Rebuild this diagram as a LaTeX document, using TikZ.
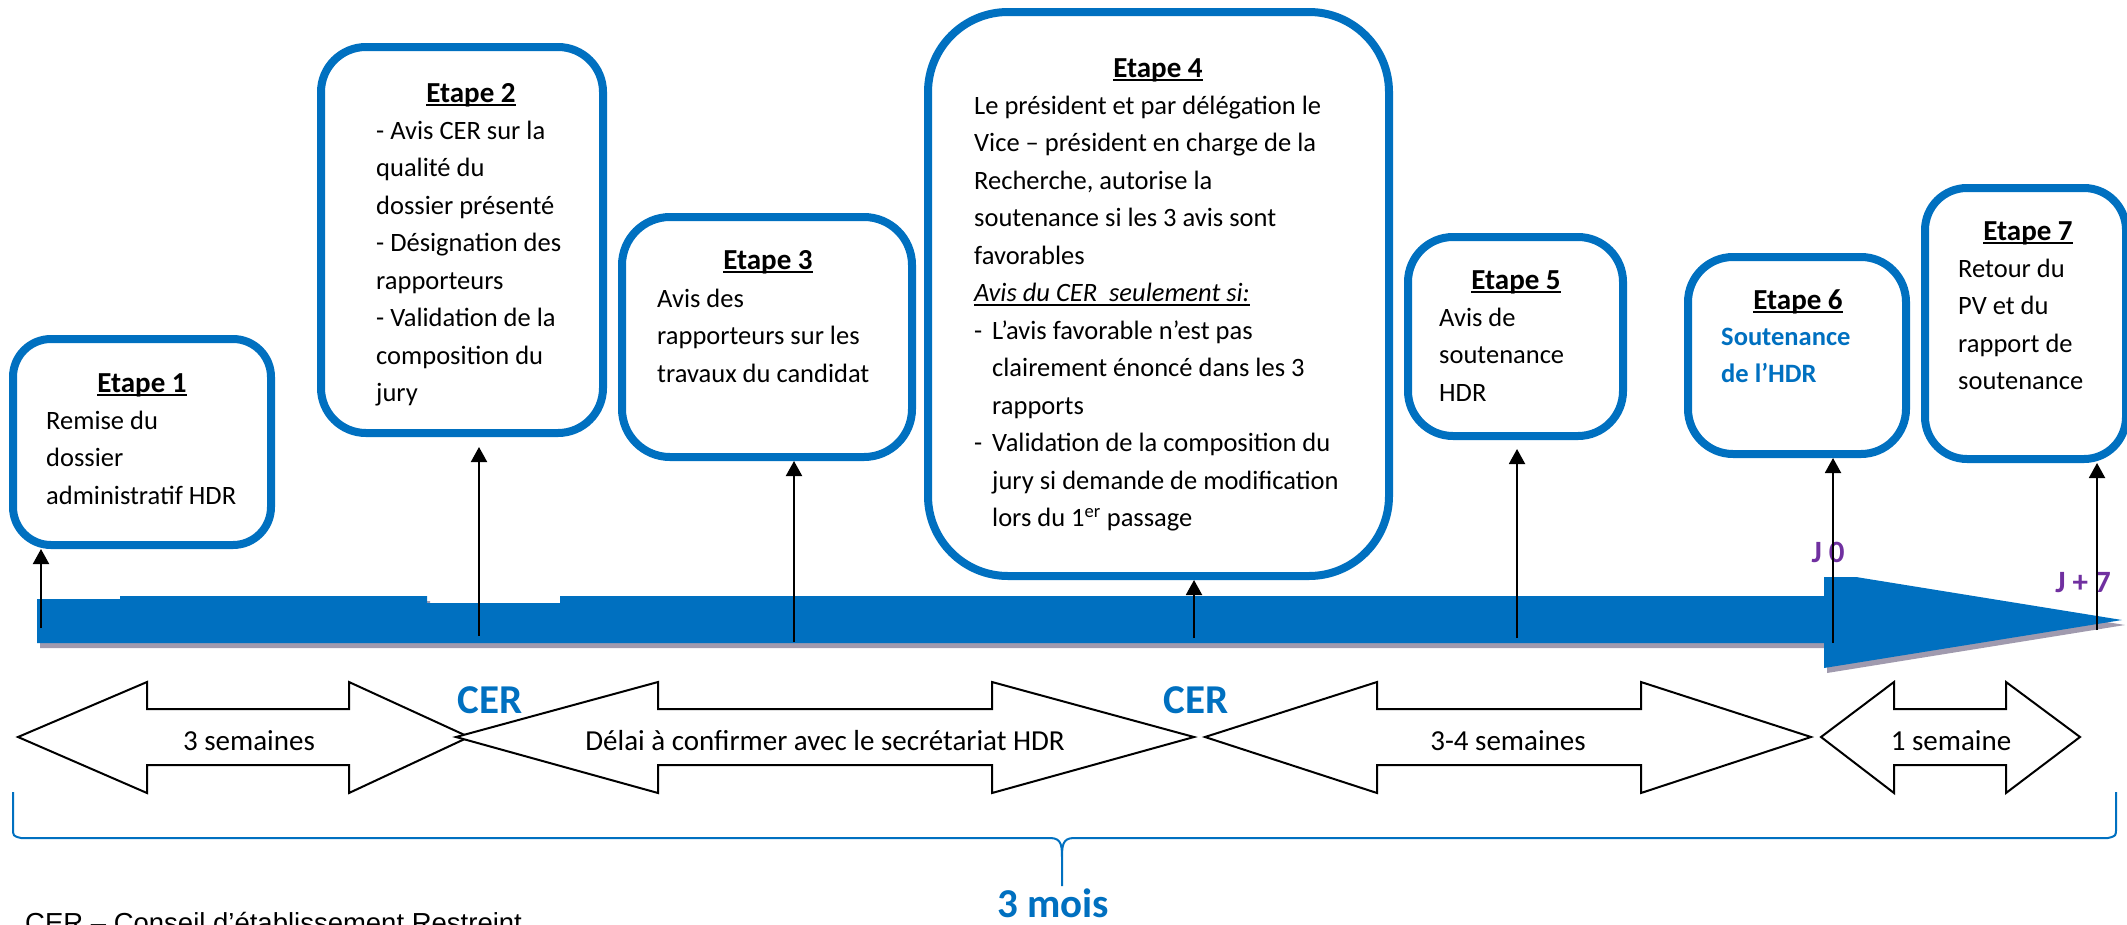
\documentclass[tikz,border=0pt]{standalone}
\usepackage{fontspec}
\setmainfont{Carlito}
\newfontfamily\notefont{Liberation Sans}
\usetikzlibrary{arrows.meta}
\definecolor{cblue}{RGB}{0,112,192}
\definecolor{cpurple}{RGB}{112,48,160}
\definecolor{cshadow}{RGB}{160,154,174}
\newcommand\ulbox[1]{\setbox0\hbox{#1}\rlap{\rule[-4pt]{\wd0}{2pt}}\box0}
\newcommand\firststrut{\rule{0pt}{22pt}}
\newcommand\dblarrowshape[5]{%
  \draw[dblshape] (#1,737) -- (#2,682) -- (#2,709) -- (#3,709) -- (#3,682) -- (#4,737)
    -- (#3,793) -- (#3,765) -- (#2,765) -- (#2,793) -- cycle;}
\tikzset{
  stepbox/.style={draw=cblue, line width=8pt, fill=white, inner sep=0pt},
  etitle/.style={font=\fontsize{29}{35}\selectfont\bfseries, anchor=base, inner sep=0pt},
  bodytxt/.style={font=\fontsize{26.5}{37.5}\selectfont, align=left, anchor=north west, inner sep=0pt},
  tickarrow/.style={line width=2pt, -{Triangle[width=16pt,length=15pt]}},
  dblshape/.style={draw=black, line width=2pt, fill=white, line join=miter},
  dbltext/.style={font=\fontsize{29}{35}\selectfont, anchor=base, inner sep=0pt},
  certxt/.style={font=\fontsize{41}{45}\selectfont\bfseries, text=cblue, anchor=base, inner sep=0pt},
  jlabel/.style={font=\fontsize{31}{35}\selectfont\bfseries, text=cpurple, anchor=base, inner sep=0pt},
}
\begin{document}
\begin{tikzpicture}[x=1pt,y=-1pt]
\useasboundingbox (0,0) rectangle (2127,924);

% timeline bar with shadow
\fill[cshadow, shift={(3,5)}] (37,599) -- (120,599) -- (120,596) -- (427,596) -- (427,603) -- (560,603) -- (560,596) -- (1824,596) -- (1824,577) -- (1856,577) -- (2122,620) -- (1824,668) -- (1824,643) -- (37,643) -- cycle;
\fill[cblue] (37,599) -- (120,599) -- (120,596) -- (427,596) -- (427,603) -- (560,603) -- (560,596) -- (1824,596) -- (1824,577) -- (1856,577) -- (2122,620) -- (1824,668) -- (1824,643) -- (37,643) -- cycle;

% step boxes
\node[stepbox, minimum width=258pt, minimum height=206pt, rounded corners=38pt] (b1) at (142,442) {};
\node[stepbox, minimum width=282pt, minimum height=386pt, rounded corners=45pt] (b2) at (462,240) {};
\node[stepbox, minimum width=290pt, minimum height=240pt, rounded corners=48pt] (b3) at (767,337) {};
\node[stepbox, minimum width=461pt, minimum height=564pt, rounded corners=80pt] (b4) at (1158.5,294) {};
\node[stepbox, minimum width=215pt, minimum height=199pt, rounded corners=45pt] (b5) at (1515.5,336.5) {};
\node[stepbox, minimum width=218pt, minimum height=197pt, rounded corners=45pt] (b6) at (1797,355.5) {};
\node[stepbox, minimum width=201pt, minimum height=271pt, rounded corners=42pt] (b7) at (2025.5,323.5) {};

% titles
\node[etitle] (e1) at (142,392) {\ulbox{Etape 1}};
\node[etitle] (e2) at (471,102) {\ulbox{Etape 2}};
\node[etitle] (e3) at (768,269) {\ulbox{Etape 3}};
\node[etitle] (e4) at (1158,77) {\ulbox{Etape 4}};
\node[etitle] (e5) at (1516,289) {\ulbox{Etape 5}};
\node[etitle] (e6) at (1798,309) {\ulbox{Etape 6}};
\node[etitle] (e7) at (2028,240) {\ulbox{Etape 7}};

% bodies
\node[bodytxt] (n1) at (46,407) {\firststrut Remise du\\dossier\\administratif HDR};
\node[bodytxt] (n2) at (376,117) {\firststrut - Avis CER sur la\\qualité du\\dossier présenté\\- Désignation des\\rapporteurs\\- Validation de la\\composition du\\jury};
\node[bodytxt] (n3) at (657,285) {\firststrut Avis des\\rapporteurs sur les\\travaux du candidat};
\node[bodytxt] (n4) at (974,92) {\firststrut Le président et par délégation le\\Vice – président en charge de la\\Recherche, autorise la\\soutenance si les 3 avis sont\\favorables\\\ulbox{\itshape Avis du CER\ \ seulement si:}\\\makebox[18pt][l]{-}L’avis favorable n’est pas\\\hspace*{18pt}clairement énoncé dans les 3\\\hspace*{18pt}rapports\\\makebox[18pt][l]{-}Validation de la composition du\\\hspace*{18pt}jury si demande de modification\\\hspace*{18pt}lors du 1\textsuperscript{er} passage};
\node[bodytxt] (n5) at (1439,304) {\firststrut Avis de\\soutenance\\HDR};
\node[bodytxt, text=cblue, font=\fontsize{26.5}{37.5}\selectfont\bfseries] (n6) at (1721,323) {\firststrut Soutenance\\de l’HDR};
\node[bodytxt] (n7) at (1958,255) {\firststrut Retour du\\PV et du\\rapport de\\soutenance};

% J labels
\node[jlabel] (j0) at (1828,562) {J 0};
\node[jlabel] (j7) at (2083,592) {J + 7};

% tick arrows
\coordinate (p1) at (41,628);
\coordinate (p2) at (479,636);
\coordinate (p3) at (794,642);
\coordinate (p4) at (1194,638);
\coordinate (p5) at (1517,638);
\coordinate (p6) at (1833,643);
\coordinate (p7) at (2097,630);
\draw[tickarrow] (p1) -- (p1 |- b1.south);
\draw[tickarrow, shorten >=10pt] (p2) -- (p2 |- b2.south);
\draw[tickarrow] (p3) -- (p3 |- b3.south);
\draw[tickarrow] (p4) -- (p4 |- b4.south);
\draw[tickarrow, shorten >=9pt] (p5) -- (p5 |- b5.south);
\draw[tickarrow] (p6) -- (p6 |- b6.south);
\draw[tickarrow] (p7) -- (p7 |- b7.south);

% double arrows
\dblarrowshape{18}{147}{349}{469}{}
\dblarrowshape{456}{658}{992}{1194}{}
\dblarrowshape{1205}{1377}{1641}{1811}{}
\dblarrowshape{1821}{1894}{2006}{2080}{}
\node[dbltext] (d1) at (249,750) {3 semaines};
\node[dbltext] (d2) at (825,750) {Délai à confirmer avec le secrétariat HDR};
\node[dbltext] (d3) at (1508,750) {3-4 semaines};
\node[dbltext] (d4) at (1951,750) {1 semaine};

% CER labels
\node[certxt] (c1) at (490,713) {CER};
\node[certxt] (c2) at (1196,713) {CER};

% brace
\draw[cblue, line width=2pt] (13,792) -- (13,828) .. controls (13,836) .. (21,838) -- (1050,838)
  .. controls (1062,838) and (1062,846) .. (1062,860) -- (1062,886) -- (1062,860)
  .. controls (1062,846) and (1062,838) .. (1074,838) -- (2108,838)
  .. controls (2116,836) .. (2116,828) -- (2116,792);
\node[certxt] (m3) at (1053,917) {3 mois};

% note
\node[anchor=base west, inner sep=0pt, font=\notefont\fontsize{27.5}{33}\selectfont] (note) at (25,932) {CER – Conseil d’établissement Restreint};
\end{tikzpicture}
\end{document}
